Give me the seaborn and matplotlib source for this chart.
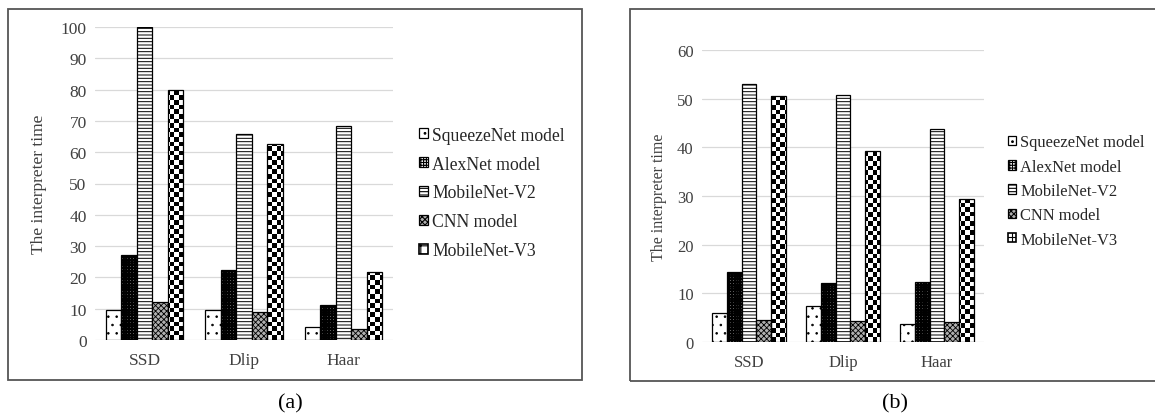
import numpy as np
import pandas as pd
import matplotlib
matplotlib.use("Agg")
import matplotlib.pyplot as plt
import seaborn as sns
from matplotlib.patches import Rectangle, Patch

categories = ["SSD", "Dlip", "Haar"]
models = ["SqueezeNet model", "AlexNet model", "MobileNet-V2", "CNN model", "MobileNet-V3"]

# panel (a)
a_squeeze = [9.5, 9.5, 4.0]
a_alex = [27.0, 22.3, 11.2]
a_mv2 = [100.0, 65.7, 68.5]
a_cnn = [12.0, 8.8, 3.5]
a_mv3 = [80.0, 62.5, 21.7]

# panel (b)
b_squeeze = [5.9, 7.4, 3.8]
b_alex = [14.3, 12.2, 12.4]
b_mv2 = [53.0, 50.8, 43.7]
b_cnn = [4.6, 4.4, 4.2]
b_mv3 = [50.6, 39.2, 29.3]

a_ticks = [0, 10, 20, 30, 40, 50, 60, 70, 80, 90, 100]
b_ticks = [0, 10, 20, 30, 40, 50, 60]


def long_df(series):
    rows = []
    for m, vals in zip(models, series):
        for c, v in zip(categories, vals):
            rows.append({"cat": c, "model": m, "value": v})
    return pd.DataFrame(rows)


df_a = long_df([a_squeeze, a_alex, a_mv2, a_cnn, a_mv3])
df_b = long_df([b_squeeze, b_alex, b_mv2, b_cnn, b_mv3])

sns.set_theme(style="white")
plt.rcParams["font.family"] = ["Liberation Serif", "DejaVu Serif"]
plt.rcParams["hatch.linewidth"] = 0.8

W, H = 1155, 414
fig = plt.figure(figsize=(W / 100, H / 100), dpi=100)

styles = {
    "SqueezeNet model": dict(fc="white", hatch="..", hlw=0.6),
    "AlexNet model": dict(fc="white", hatch="++++++", hlw=1.5),
    "MobileNet-V2": dict(fc="white", hatch="-----", hlw=0.7),
    "CNN model": dict(fc="#b0b0b0", hatch="xxxxxx", hlw=0.6),
    "MobileNet-V3": dict(fc="none", hatch=None, hlw=0.8),
}


def checker(nx, ny):
    yy, xx = np.mgrid[0:ny, 0:nx]
    return ((xx + yy) % 2).astype(float)


def px_rect(x0, y0, x1, y1):
    return [x0 / W, 1 - y1 / H, (x1 - x0) / W, (y1 - y0) / H]


def panel(rect, df, ticks, ymax, width, leg_x, leg_y, leg_fs, leg_sp, tick_fs, lab_fs, label_x):
    ax = fig.add_axes(rect)
    sns.barplot(data=df, x="cat", y="value", hue="model", hue_order=models,
                order=categories, width=width, gap=0, ax=ax, legend=False,
                saturation=1, errorbar=None)
    ax.set_ylim(0, ymax)
    ax.set_xlim(-0.5, 2.5)
    ax.set_yticks(ticks)
    ax.set_yticklabels([str(t) for t in ticks], fontsize=tick_fs, color="#404040")
    ax.tick_params(axis="x", labelsize=tick_fs, colors="#404040", length=0, pad=9)
    ax.tick_params(axis="y", length=0, pad=6)
    for sp in ax.spines.values():
        sp.set_visible(False)
    ax.yaxis.grid(True, color="#d9d9d9", lw=0.9)
    ax.set_axisbelow(True)
    ax.set_xlabel("")
    ax.set_ylabel("The interpreter time", fontsize=lab_fs, color="#404040")
    ax.yaxis.set_label_coords(label_x, 0.5)
    bbox = ax.get_window_extent()
    nx = int(bbox.width / 4.6)
    ny = int(bbox.height / 4.6)
    for m, cont in zip(models, ax.containers):
        st = styles[m]
        for p in cont.patches:
            p.set_facecolor(st["fc"])
            p.set_edgecolor("black")
            p.set_linewidth(0.9)
            if st["hatch"]:
                p.set_hatch(st["hatch"])
                if hasattr(p, "set_hatch_linewidth"):
                    p.set_hatch_linewidth(st["hlw"])
            if m == "MobileNet-V3":
                im = ax.imshow(checker(nx, ny), cmap="gray_r", vmin=0, vmax=1,
                               extent=[0, 1, 0, 1], transform=ax.transAxes,
                               aspect="auto", interpolation="nearest", zorder=p.get_zorder() - 0.05)
                im.set_clip_path(p)
    ax.set_ylim(0, ymax)
    ax.set_xlim(-0.5, 2.5)
    handles = []
    for m in models:
        st = styles[m]
        if m == "MobileNet-V3":
            h = Patch(facecolor="white", edgecolor="black", hatch="++", lw=1.2)
        else:
            h = Patch(facecolor=st["fc"], edgecolor="black", hatch=st["hatch"], lw=0.9)
        handles.append(h)
    leg = fig.legend(handles=handles, labels=models, loc="center left",
                     bbox_to_anchor=(leg_x / W, 1 - leg_y / H), bbox_transform=fig.transFigure,
                     frameon=False, fontsize=leg_fs, handlelength=0.5, handleheight=0.5,
                     handletextpad=0.25, labelspacing=leg_sp, borderpad=0, borderaxespad=0)
    for t in leg.get_texts():
        t.set_color("#262626")
    return ax


panel(px_rect(95, 28, 393, 341), df_a, a_ticks, 100, 0.78, 419, 194, 12.7, 0.68, 12.5, 12.5, -0.16)
panel(px_rect(702, 51, 984, 343), df_b, b_ticks, 60, 0.79, 1008, 192, 11.9, 0.5, 12, 11.5, -0.125)

fig.add_artist(Rectangle((8 / W, 1 - 381 / H), 574 / W, 371 / H, transform=fig.transFigure,
                         fill=False, edgecolor="#555555", lw=1.3))
fig.add_artist(Rectangle((630 / W, 1 - 382 / H), 540 / W, 372 / H, transform=fig.transFigure,
                         fill=False, edgecolor="#555555", lw=1.3))
fig.text(290 / W, 1 - 404 / H, "(a)", ha="center", va="center", fontsize=16, color="black")
fig.text(895 / W, 1 - 404 / H, "(b)", ha="center", va="center", fontsize=16, color="black")

fig.savefig("out.png", dpi=100)
